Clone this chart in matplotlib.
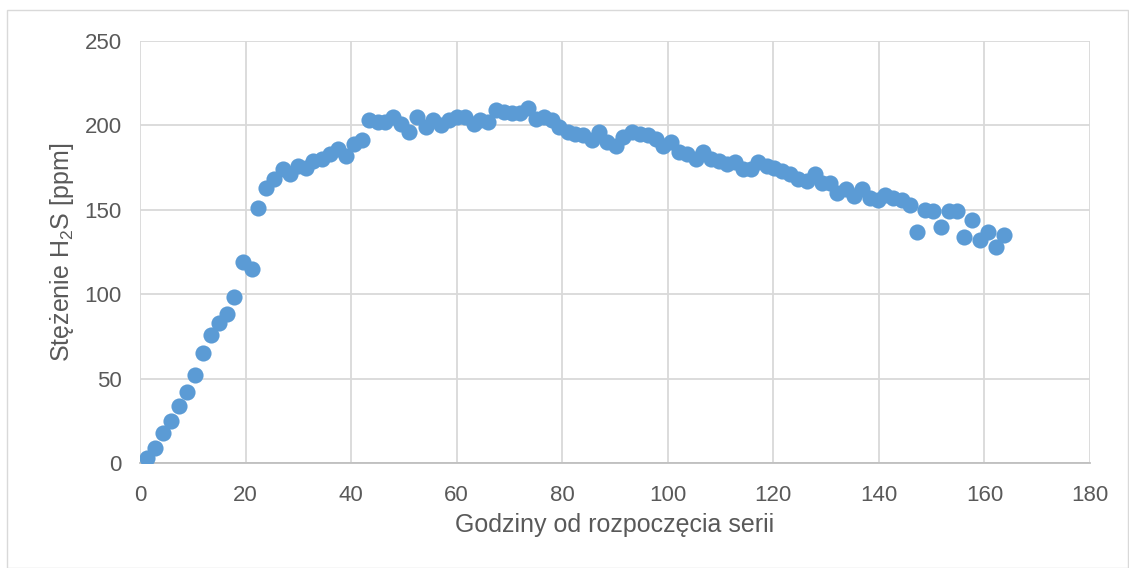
import matplotlib.pyplot as plt
from matplotlib.patches import Rectangle

plt.rcParams['font.family'] = ['Liberation Sans', 'DejaVu Sans']
plt.rcParams['mathtext.fontset'] = 'custom'
plt.rcParams['mathtext.rm'] = 'Liberation Sans'
plt.rcParams['mathtext.it'] = 'Liberation Sans:italic'

# godziny od rozpoczęcia serii
hours = [1.3, 2.8, 4.4, 5.9, 7.4, 9.0, 10.5, 12.0, 13.5, 15.0, 16.4, 17.9,
         19.6, 21.2, 22.4, 23.9, 25.4, 27.0, 28.4, 29.9, 31.4, 32.8, 34.4,
         36.0, 37.5, 39.0, 40.5, 42.1, 43.4, 45.0, 46.5, 48.0, 49.5, 51.0,
         52.5, 54.1, 55.6, 57.0, 58.5, 60.0, 61.6, 63.2, 64.5, 66.0, 67.4,
         69.0, 70.4, 72.0, 73.6, 75.0, 76.6, 78.0, 79.4, 81.0, 82.5, 84.0,
         85.6, 87.0, 88.5, 90.1, 91.6, 93.2, 94.7, 96.3, 97.8, 99.0, 100.6,
         102.1, 103.7, 105.3, 106.7, 108.2, 109.7, 111.3, 112.7, 114.2,
         115.7, 117.1, 118.7, 120.1, 121.7, 123.2, 124.7, 126.3, 127.8,
         129.2, 130.7, 132.1, 133.7, 135.3, 136.7, 138.3, 139.8, 141.2,
         142.7, 144.3, 145.9, 147.2, 148.7, 150.3, 151.7, 153.3, 154.7,
         156.2, 157.7, 159.2, 160.7, 162.2, 163.7]

# stężenie H2S [ppm]
h2s = [3, 9, 18, 25, 34, 42, 52, 65, 76, 83, 88, 98,
       119, 115, 151, 163, 168, 174, 171, 176, 175, 179, 180,
       183, 186, 182, 189, 191, 203, 202, 202, 205, 201, 196,
       205, 199, 203, 200, 203, 205, 205, 201, 203, 202, 209,
       208, 207, 207, 210, 204, 205, 203, 199, 196, 195, 194,
       191, 196, 190, 188, 193, 196, 195, 194, 192, 188, 190,
       184, 183, 180, 184, 180, 179, 177, 178, 174,
       174, 178, 176, 175, 173, 171, 168, 167, 171,
       166, 166, 160, 162, 158, 162, 157, 156, 159,
       157, 156, 153, 137, 150, 149, 140, 149, 149,
       134, 144, 132, 137, 128, 135]

x_ticks = [0, 20, 40, 60, 80, 100, 120, 140, 160, 180]
y_ticks = [0, 50, 100, 150, 200, 250]


def viewer():
    fig = plt.figure(figsize=(11.29, 5.68), dpi=100)
    fig.patches.append(Rectangle((0.006, 0.0), 0.993, 0.982, transform=fig.transFigure,
                                 fill=False, edgecolor='#D9D9D9', linewidth=1.0))
    ax = fig.add_axes([0.124, 0.185, 0.8415, 0.743])
    ax.scatter(hours, h2s, s=135, color='#5B9BD5', linewidths=0, zorder=3)

    ax.set_xlim(0, 180)
    ax.set_ylim(0, 250)
    ax.set_xticks(x_ticks)
    ax.set_yticks(y_ticks)
    ax.grid(True, color='#D9D9D9', linewidth=1.3, zorder=0)
    for side in ['top', 'right', 'left']:
        ax.spines[side].set_visible(False)
    ax.spines['bottom'].set_color('#BFBFBF')
    ax.spines['bottom'].set_linewidth(1.3)
    ax.tick_params(length=0, labelsize=16, labelcolor='#595959')
    ax.tick_params(axis='x', pad=16)
    ax.tick_params(axis='y', pad=13)
    ax.set_xlabel('Godziny od rozpoczęcia serii', fontsize=18, color='#595959', labelpad=5)
    ax.set_ylabel('Stężenie H$_2$S [ppm]', fontsize=18, color='#595959', labelpad=6)
    ax.set_axisbelow(True)
    fig.savefig('out.png', dpi=100)


if __name__ == "__main__":
    viewer()
